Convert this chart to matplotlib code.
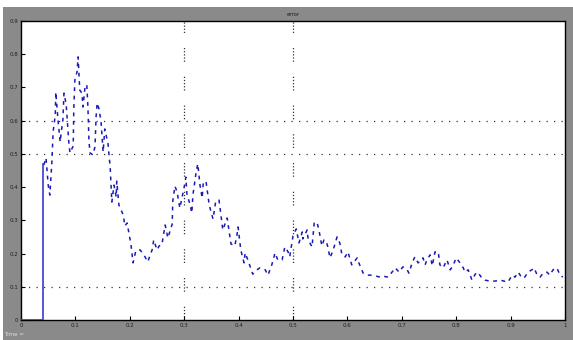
import matplotlib
matplotlib.use("Agg")
import matplotlib.pyplot as plt
from matplotlib.patches import Rectangle

# ---- data ----
lead_x = [0.0, 0.040, 0.040]
lead_y = [0.0, 0.0, 0.47]

sig_x = [0.042, 0.046, 0.050, 0.053, 0.057, 0.059, 0.063, 0.064, 0.068, 0.072,
         0.074, 0.077, 0.079, 0.083, 0.086, 0.088, 0.090, 0.096, 0.097, 0.099,
         0.103, 0.105, 0.108, 0.112, 0.114, 0.118, 0.121, 0.123, 0.125, 0.127,
         0.132, 0.136, 0.138, 0.140, 0.143, 0.147, 0.151, 0.154, 0.160, 0.164,
         0.167, 0.171, 0.175, 0.176, 0.180, 0.188, 0.191, 0.195, 0.202, 0.206,
         0.211, 0.219, 0.228, 0.233, 0.241, 0.244, 0.250, 0.254, 0.259, 0.261,
         0.265, 0.270, 0.278, 0.279, 0.283, 0.287, 0.292, 0.300, 0.303, 0.305,
         0.311, 0.314, 0.316, 0.322, 0.325, 0.329, 0.333, 0.335, 0.340, 0.346,
         0.353, 0.358, 0.364, 0.369, 0.371, 0.379, 0.386, 0.393, 0.397, 0.399,
         0.404, 0.410, 0.412, 0.417, 0.426, 0.434, 0.439, 0.449, 0.454, 0.461,
         0.467, 0.472, 0.480, 0.485, 0.491, 0.494, 0.500, 0.506, 0.511, 0.517,
         0.518, 0.526, 0.528, 0.535, 0.539, 0.544, 0.548, 0.553, 0.557, 0.561,
         0.564, 0.568, 0.574, 0.581, 0.586, 0.590, 0.596, 0.601, 0.608, 0.618,
         0.621, 0.629, 0.636, 0.643, 0.653, 0.660, 0.665, 0.675, 0.682, 0.688,
         0.695, 0.702, 0.710, 0.713, 0.719, 0.724, 0.730, 0.733, 0.739, 0.743,
         0.746, 0.752, 0.756, 0.761, 0.767, 0.770, 0.776, 0.783, 0.789, 0.794,
         0.800, 0.807, 0.813, 0.816, 0.822, 0.829, 0.835, 0.840, 0.847, 0.853,
         0.862, 0.871, 0.881, 0.895, 0.903, 0.908, 0.914, 0.921, 0.926, 0.932,
         0.939, 0.943, 0.949, 0.954, 0.960, 0.967, 0.972, 0.978, 0.985, 0.991,
         0.996]
sig_y = [0.467, 0.488, 0.406, 0.376, 0.482, 0.566, 0.617, 0.686, 0.602, 0.536,
         0.566, 0.602, 0.683, 0.650, 0.581, 0.533, 0.503, 0.524, 0.632, 0.722,
         0.747, 0.792, 0.692, 0.683, 0.641, 0.707, 0.707, 0.641, 0.536, 0.503,
         0.497, 0.521, 0.611, 0.653, 0.638, 0.599, 0.506, 0.575, 0.530, 0.458,
         0.355, 0.406, 0.370, 0.418, 0.346, 0.316, 0.283, 0.292, 0.229, 0.172,
         0.208, 0.211, 0.190, 0.175, 0.211, 0.241, 0.211, 0.223, 0.226, 0.247,
         0.286, 0.247, 0.289, 0.358, 0.403, 0.385, 0.337, 0.400, 0.430, 0.379,
         0.346, 0.322, 0.376, 0.446, 0.470, 0.406, 0.367, 0.412, 0.418, 0.346,
         0.304, 0.358, 0.361, 0.298, 0.271, 0.307, 0.229, 0.223, 0.256, 0.280,
         0.211, 0.172, 0.202, 0.181, 0.138, 0.151, 0.157, 0.151, 0.135, 0.166,
         0.202, 0.181, 0.181, 0.220, 0.205, 0.190, 0.253, 0.274, 0.232, 0.265,
         0.244, 0.271, 0.241, 0.220, 0.292, 0.295, 0.268, 0.223, 0.241, 0.238,
         0.220, 0.187, 0.211, 0.250, 0.232, 0.196, 0.190, 0.205, 0.166, 0.187,
         0.172, 0.141, 0.135, 0.135, 0.132, 0.129, 0.132, 0.129, 0.144, 0.157,
         0.144, 0.160, 0.151, 0.141, 0.172, 0.190, 0.172, 0.175, 0.187, 0.166,
         0.181, 0.196, 0.163, 0.205, 0.205, 0.166, 0.157, 0.181, 0.151, 0.163,
         0.187, 0.172, 0.157, 0.144, 0.151, 0.120, 0.138, 0.144, 0.126, 0.120,
         0.117, 0.117, 0.120, 0.114, 0.135, 0.129, 0.144, 0.126, 0.129, 0.144,
         0.151, 0.157, 0.135, 0.129, 0.141, 0.144, 0.135, 0.151, 0.157, 0.135,
         0.129]

x_ticks = [0.0, 0.1, 0.2, 0.3, 0.4, 0.5, 0.6, 0.7, 0.8, 0.9, 1.0]
x_labels = ["0", "0.1", "0.2", "0.3", "0.4", "0.5", "0.6", "0.7", "0.8", "0.9", "1"]
y_ticks = [0.0, 0.1, 0.2, 0.3, 0.4, 0.5, 0.6, 0.7, 0.8, 0.9]
y_labels = ["0", "0.1", "0.2", "0.3", "0.4", "0.5", "0.6", "0.7", "0.8", "0.9"]
grid_y = [0.1, 0.5, 0.6]
grid_x = [0.3, 0.5]
title_text = "error"
corner_text = "Time ="

# ---- figure ----
fig = plt.figure(figsize=(5.73, 3.40), dpi=100, facecolor="#8a8a8a")
fig.patches.append(Rectangle((0, 1 - 7 / 340), 1, 7 / 340, transform=fig.transFigure,
                             facecolor="white", edgecolor="none", zorder=0))
fig.patches.append(Rectangle((0, 0), 3 / 573, 1, transform=fig.transFigure,
                             facecolor="white", edgecolor="none", zorder=0))

ax = fig.add_axes([21 / 573, 20 / 340, 544 / 573, 299 / 340])
ax.set_facecolor("white")
ax.set_xlim(0, 1)
ax.set_ylim(0, 0.9)

for gy in grid_y:
    ax.axhline(gy, color="#333333", lw=0.9, linestyle=(0, (1, 5)), zorder=1)
for gx in grid_x:
    ax.axvline(gx, color="#333333", lw=0.9,
               linestyle=(0, (1, 1.5, 1, 1.5, 1, 1.5, 1, 1.5, 1, 12)), zorder=1)

ax.plot(lead_x, lead_y, color="#3a3ad0", lw=1.2, zorder=3)
ax.plot(sig_x, sig_y, color="#1a1ab4", lw=1.1, linestyle=(0, (2.5, 3)), zorder=3)

ax.set_xticks(x_ticks)
ax.set_xticklabels(x_labels)
ax.set_yticks(y_ticks)
ax.set_yticklabels(y_labels)
ax.tick_params(direction="in", length=3, width=0.8, labelsize=4,
               labelcolor="#202020", pad=2, top=False, right=False)
for s in ax.spines.values():
    s.set_color("black")
    s.set_linewidth(1.0)

fig.text(293 / 573, 1 - 15 / 340, title_text, ha="center", va="center",
         fontsize=4, color="#202020")
fig.text(4 / 573, 5 / 340, corner_text, ha="left", va="center",
         fontsize=4, color="#dddddd")

fig.savefig("out.png", dpi=100, facecolor=fig.get_facecolor())
